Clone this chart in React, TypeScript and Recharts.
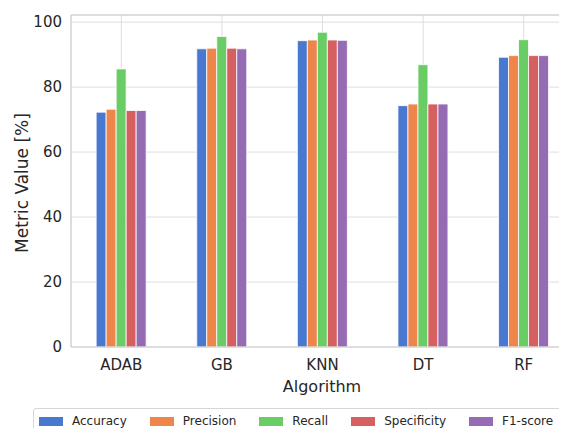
import { BarChart, Bar, XAxis, YAxis, CartesianGrid, ReferenceLine } from 'recharts'

const algorithms = ['ADAB', 'GB', 'KNN', 'DT', 'RF']
const accuracy = [72.3, 91.8, 94.3, 74.3, 89.2]
const precision = [73.2, 92.0, 94.5, 74.8, 89.7]
const recall = [85.6, 95.6, 96.9, 86.9, 94.6]
const specificity = [72.8, 92.0, 94.5, 74.8, 89.7]
const f1 = [72.8, 91.8, 94.4, 74.8, 89.7]
const yTicks = [0, 20, 40, 60, 80, 100]

const series = [
  { key: 'accuracy', name: 'Accuracy', color: '#4878D0', values: accuracy },
  { key: 'precision', name: 'Precision', color: '#EE854A', values: precision },
  { key: 'recall', name: 'Recall', color: '#6ACC64', values: recall },
  { key: 'specificity', name: 'Specificity', color: '#D65F5F', values: specificity },
  { key: 'f1', name: 'F1-score', color: '#956CB4', values: f1 },
]

const data = algorithms.map((a, i) => {
  const row: Record<string, string | number> = { algorithm: a }
  series.forEach((s) => { row[s.key] = s.values[i] })
  return row
})

const FONT = '"DejaVu Sans", sans-serif'
const tickStyle = { fill: '#262626', fontSize: 15, fontFamily: FONT }

export default function App() {
  return (
    // clip to the window so no scrollbars show up
    <div style={{ position: 'relative', width: 559, height: 420, overflow: 'hidden', fontFamily: FONT }}>
      <BarChart
        width={600}
        height={440}
        data={data}
        margin={{ top: 7, right: 34, left: 0, bottom: 71 }}
        barCategoryGap="25%"
        barGap={0}
      >
        <CartesianGrid stroke="#dedede" strokeWidth={1} />
        <XAxis
          dataKey="algorithm"
          height={30}
          tick={tickStyle}
          tickLine={false}
          tickSize={6}
          tickMargin={6}
          axisLine={{ stroke: '#cccccc' }}
          label={{
            content: () => (
              <text x={314} y={379} textAnchor="middle" dominantBaseline="middle"
                style={{ fontSize: 16, fontFamily: FONT, fill: '#262626' }}>
                Algorithm
              </text>
            ),
          }}
        />
        <YAxis
          width={63}
          domain={[0, 102.2]}
          ticks={yTicks}
          tick={tickStyle}
          tickLine={false}
          tickSize={6}
          tickMargin={3}
          axisLine={{ stroke: '#cccccc' }}
          label={{
            content: () => (
              <text x={15} y={175} textAnchor="middle" dominantBaseline="middle"
                transform="rotate(-90 15 175)"
                style={{ fontSize: 17, fontFamily: FONT, fill: '#262626' }}>
                Metric Value [%]
              </text>
            ),
          }}
        />
        <ReferenceLine y={102.2} stroke="#cccccc" ifOverflow="extendDomain" />
        {series.map((s) => (
          <Bar
            key={s.key}
            dataKey={s.key}
            name={s.name}
            fill={s.color}
            stroke="#ffffff"
            strokeWidth={0.8}
            isAnimationActive={false}
          />
        ))}
      </BarChart>
      <div
        style={{
          position: 'absolute',
          left: 25,
          top: 400,
          width: 580,
          height: 26,
          border: '1px solid #d6d6d6',
          borderRadius: 3,
          boxSizing: 'border-box',
          display: 'flex',
          alignItems: 'center',
          paddingLeft: 5,
          fontSize: 12,
          color: '#262626',
          whiteSpace: 'nowrap',
        }}
      >
        {series.map((s) => (
          <div key={s.key} style={{ display: 'flex', alignItems: 'center', marginRight: 23 }}>
            <span style={{ display: 'inline-block', width: 24, height: 9, background: s.color, marginRight: 9 }} />
            <span>{s.name}</span>
          </div>
        ))}
      </div>
    </div>
  )
}
